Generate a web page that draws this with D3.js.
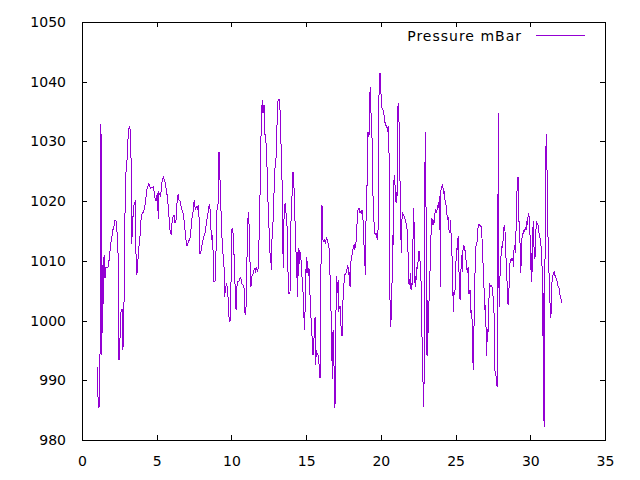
<!DOCTYPE html>
<html>
<head>
<meta charset="utf-8">
<script src="https://cdn.jsdelivr.net/npm/d3@7/dist/d3.min.js"></script>
<style>
html,body{margin:0;padding:0;background:#fff;}
svg{display:block;}
text{font-family:"DejaVu Sans",sans-serif;font-size:14px;fill:#000;}
</style>
</head>
<body>
<svg id="chart" width="640" height="480"></svg>
<script>
const seriesName = "Pressure mBar";
const xTicks = [0,5,10,15,20,25,30,35];
const yTicks = [980,990,1000,1010,1020,1030,1040,1050];
const days = [
1.02,1.04,1.09,1.16,1.20,1.23,1.25,1.27,1.32,1.36,1.38,1.45,1.50,1.54,1.61,1.67,1.74,1.81,1.87,1.94,2.01,2.07,2.14,2.21,2.28,2.34,2.41,2.43,2.48,2.54,2.59,2.63,2.68,2.74,2.79,2.83,2.90,2.97,3.03,3.10,3.17,3.23,3.28,3.30,3.37,3.43,3.50,3.57,3.59,3.64,3.70,3.77,3.84,3.90,3.97,4.04,4.13,4.20,4.26,4.33,4.40,4.46,4.53,4.60,
4.77,4.89,4.95,5.04,5.11,5.15,5.24,5.31,5.35,5.44,5.56,5.62,5.69,5.76,5.82,5.89,5.96,6.02,6.09,6.16,6.22,6.29,6.36,6.43,6.49,6.56,6.63,6.69,6.76,6.83,6.89,6.96,7.03,7.09,7.16,7.23,7.30,7.36,7.43,7.47,7.52,7.59,7.65,7.72,7.79,7.83,7.88,7.94,8.01,8.08,8.14,8.21,8.28,8.34,8.41,8.48,8.54,8.59,8.66,
8.72,8.77,8.81,8.83,8.90,8.97,8.99,9.04,9.10,9.12,9.17,9.21,9.26,9.30,9.37,9.41,9.46,9.50,9.55,9.59,9.66,9.71,9.77,9.82,9.88,9.95,9.99,10.04,10.11,10.15,10.20,10.26,10.31,10.33,10.40,10.49,10.55,10.62,10.69,10.78,10.84,10.89,10.95,11.00,11.07,11.13,11.18,11.24,11.31,11.36,11.40,11.45,11.51,11.58,11.62,11.67,11.74,11.80,11.87,11.94,12.00,12.07,12.11,12.18,12.23,12.29,12.36,12.43,12.47,12.54,12.61,12.65,12.69,
12.72,12.78,12.85,12.92,12.98,13.05,13.12,13.19,13.25,13.32,13.39,13.43,13.48,13.52,13.59,13.63,13.70,13.74,13.79,13.85,13.92,13.97,14.01,14.08,14.12,14.17,14.21,14.28,14.32,14.37,14.41,14.46,14.50,14.55,14.61,14.66,14.70,14.77,14.84,14.88,14.93,14.97,15.02,15.06,15.10,15.15,15.19,15.24,15.31,15.37,15.42,15.46,15.51,15.55,15.60,15.64,15.68,15.73,15.80,15.86,15.93,15.97,16.02,16.06,16.11,16.15,16.22,16.29,16.35,16.42,16.49,16.56,16.60,16.64,16.69,
16.76,16.80,16.85,16.89,16.93,16.96,17.00,17.05,17.09,17.14,17.18,17.22,17.27,17.31,17.36,17.40,17.45,17.49,17.54,17.58,17.65,17.72,17.76,17.80,17.85,17.89,17.94,17.98,18.03,18.07,18.12,18.16,18.21,18.25,18.30,18.34,18.38,18.43,18.50,18.56,18.61,18.65,18.70,18.74,18.79,18.83,18.88,18.92,18.96,19.01,19.05,19.10,19.14,19.19,19.23,19.28,19.32,19.37,19.41,19.46,19.50,19.55,19.59,19.63,19.68,19.72,19.77,19.81,19.86,19.90,19.95,19.99,20.04,20.08,20.13,20.17,20.21,20.26,20.30,20.35,20.39,20.44,20.48,20.53,20.57,20.62,20.64,20.68,20.73,
20.77,20.79,20.84,20.88,20.93,20.97,21.02,21.06,21.11,21.15,21.20,21.24,21.29,21.33,21.37,21.42,21.46,21.53,21.60,21.66,21.73,21.80,21.84,21.89,21.93,21.98,22.02,22.07,22.11,22.16,22.20,22.24,22.29,22.33,22.38,22.42,22.47,22.51,22.56,22.60,22.65,22.69,22.71,22.76,22.80,22.85,22.89,22.94,22.96,23.00,23.05,23.09,23.14,23.18,23.23,23.27,23.32,23.36,23.40,23.45,23.49,23.54,23.58,23.63,23.67,23.72,23.76,23.81,23.85,23.90,23.94,23.99,24.01,24.05,24.10,24.14,24.19,24.23,24.28,24.32,24.36,24.41,24.45,24.50,24.54,24.59,24.63,24.68,24.72,
24.77,24.81,24.86,24.90,24.94,24.99,25.03,25.08,25.12,25.17,25.21,25.26,25.30,25.35,25.39,25.44,25.48,25.53,25.57,25.61,25.66,25.70,25.75,25.79,25.84,25.88,25.93,25.97,26.02,26.06,26.11,26.15,26.17,26.22,26.26,26.31,26.35,26.40,26.44,26.48,26.53,26.57,26.62,26.66,26.71,26.75,26.80,26.84,26.89,26.93,26.97,27.02,27.06,27.11,27.15,27.20,27.24,27.29,27.33,27.38,27.42,27.47,27.51,27.56,27.60,27.64,27.69,27.73,27.78,27.82,27.85,27.89,27.91,27.96,28.00,28.05,28.09,28.14,28.18,28.22,28.27,28.31,28.36,28.40,28.45,28.49,28.54,28.58,28.63,28.67,28.72,28.76,
28.83,28.87,28.92,28.96,29.00,29.05,29.09,29.14,29.18,29.23,29.27,29.32,29.36,29.41,29.45,29.50,29.54,29.59,29.63,29.67,29.72,29.76,29.81,29.85,29.90,29.94,29.99,30.03,30.05,30.10,30.14,30.19,30.23,30.28,30.32,30.37,30.41,30.46,30.50,30.55,30.59,30.63,30.68,30.72,30.77,30.81,30.86,30.88,30.92,30.97,31.01,31.06,31.10,31.15,31.19,31.24,31.28,31.33,31.37,31.42,31.46,31.50,31.55,31.59,31.64,31.68,31.73,31.77,31.82,31.86,31.91,31.95,32.00,32.04,32.09
];
const pressure = [
992.3,990.6,985.3,986.1,985.5,1028.6,1009.3,1032.9,994.2,1009.3,997.9,1010.4,1011.0,1007.1,1009.0,1008.8,1009.0,1010.1,1011.5,1013.2,1014.2,1015.2,1015.8,1016.8,1016.7,1015.1,1011.3,993.7,993.4,996.7,1001.2,1001.7,1002.0,995.1,999.8,1006.2,1023.0,1025.8,1027.4,1031.6,1032.5,1032.0,1027.2,1012.9,1014.6,1018.5,1019.7,1020.0,1014.6,1007.6,1008.2,1011.3,1013.2,1014.6,1017.7,1018.0,1018.2,1019.1,1020.0,1021.9,1022.2,1023.1,1022.5,1022.2,
1022.4,1020.5,1020.0,1021.4,1017.0,1021.4,1021.0,1021.8,1023.1,1024.1,1023.1,1022.2,1021.1,1019.4,1017.4,1015.2,1014.4,1016.3,1017.4,1017.7,1016.3,1016.8,1019.7,1021.1,1020.2,1020.0,1019.1,1018.5,1018.0,1016.8,1015.2,1013.5,1012.5,1012.9,1013.4,1013.8,1015.5,1017.1,1018.2,1019.7,1020.0,1018.5,1019.1,1018.8,1019.4,1017.4,1011.3,1011.3,1012.4,1013.2,1014.1,1014.2,1015.5,1016.7,1017.4,1019.1,1019.4,1018.0,1013.5,
1014.4,1011.6,1009.6,1006.5,1006.5,1011.8,1018.2,1018.5,1018.8,1023.3,1028.3,1024.7,1022.5,1018.5,1013.8,1011.3,1011.0,1009.3,1004.0,1005.1,1006.2,1005.7,1004.0,1000.9,999.8,1000.4,1011.3,1015.5,1014.6,1012.9,1009.0,1004.6,1001.8,1004.8,1006.5,1006.5,1007.1,1007.2,1006.2,1005.9,1005.7,1001.5,1000.9,1003.4,1015.2,1018.2,1016.0,1010.1,1005.7,1007.4,1007.6,1007.9,1008.5,1008.8,1007.9,1009.0,1008.2,1008.8,1015.8,1024.1,1034.4,1036.9,1034.7,1036.1,1031.3,1030.8,1027.7,1021.4,1018.0,1014.1,1009.6,1010.1,1008.5,
1014.4,1016.3,1021.4,1025.8,1026.9,1032.8,1036.9,1037.0,1035.3,1029.4,1023.1,1012.9,1008.8,1017.1,1019.7,1018.2,1017.7,1013.8,1007.9,1004.6,1004.6,1015.5,1018.0,1022.5,1024.8,1024.1,1020.0,1014.9,1011.6,1009.9,1004.0,1012.1,1007.4,1011.8,1011.3,1010.1,1007.9,1005.9,1001.8,998.5,1001.8,1007.1,1010.7,1007.9,1009.9,1007.4,1008.8,1005.4,1001.2,998.1,996.7,994.2,995.6,999.0,1000.6,992.5,995.1,994.5,994.2,992.8,990.3,1002.6,1016.0,1019.4,1013.8,1013.2,1013.5,1012.9,1013.8,1013.5,1012.7,1011.8,1007.4,1005.4,997.6,
990.2,998.5,995.6,987.0,985.3,993.4,1002.0,1007.4,1004.6,1006.8,1001.5,1002.3,1002.3,999.5,998.5,997.4,1002.9,1004.3,1006.5,1007.6,1007.9,1008.2,1009.3,1009.0,1007.6,1008.2,1005.7,1009.6,1010.4,1011.0,1011.8,1012.4,1012.7,1012.1,1012.4,1013.2,1014.1,1018.2,1018.8,1018.8,1018.0,1018.2,1018.0,1018.5,1018.2,1014.6,1012.4,1010.7,1007.6,1017.4,1019.7,1025.8,1031.6,1030.8,1031.6,1039.1,1036.9,1031.9,1030.5,1023.1,1017.4,1016.3,1014.6,1014.4,1014.6,1014.1,1013.5,1015.2,1035.3,1041.1,1041.4,1038.6,1036.9,1035.5,1035.3,1035.2,1034.4,1033.3,1033.0,1032.5,1032.8,1031.6,1032.5,1031.3,1023.3,1000.1,999.0,1000.9,1000.1,
1014.4,1009.6,1016.3,1023.6,1024.4,1020.5,1019.7,1021.6,1020.8,1036.4,1034.4,1031.3,1021.9,1015.5,1011.3,1017.4,1018.0,1017.7,1017.1,1016.6,1015.8,1014.1,1007.9,1005.9,1006.2,1007.9,1005.1,1006.2,1005.9,1015.2,1018.8,1013.8,1005.7,1007.4,1006.8,1009.0,1008.8,1011.3,1011.6,1011.3,1007.9,1006.5,1001.2,996.7,992.8,985.6,989.6,1007.9,1031.6,1026.9,1008.8,994.0,1003.4,997.9,1004.0,1005.7,1012.4,1014.6,1017.1,1016.8,1016.0,1016.8,1016.3,1018.2,1018.5,1018.0,1018.5,1019.1,1018.8,1020.0,1020.8,1005.7,1021.4,1022.5,1022.5,1022.8,1021.4,1021.6,1020.5,1019.7,1019.4,1018.5,1016.8,1017.4,1015.5,1014.9,1014.6,1016.8,1011.0,
1010.7,1005.7,1001.5,1005.1,1004.3,1006.2,1010.1,1012.1,1011.8,1014.1,1009.0,1006.8,1003.4,1007.4,1011.0,1008.2,1011.3,1012.7,1012.4,1011.8,1011.6,1010.1,1008.8,1007.9,1009.0,1004.6,1004.6,1005.1,1001.2,1001.8,999.8,1000.1,991.7,996.7,1003.4,1009.0,1012.4,1012.7,1013.2,1015.2,1016.0,1016.2,1016.0,1015.8,1015.8,1014.6,1012.4,1009.3,1006.8,1002.6,1001.8,1002.6,994.0,996.7,998.5,998.1,1004.0,1006.2,1005.7,1005.9,1005.7,1005.4,1004.0,1002.9,997.9,991.4,991.1,990.0,988.9,989.7,1034.7,1022.2,1002.3,1006.8,1008.5,1011.3,1012.4,1012.1,1013.5,1015.5,1015.8,1014.9,1011.3,1009.0,1006.2,1002.9,1002.6,1005.7,1009.3,1010.1,1010.4,1010.1,
1010.4,1009.0,1012.4,1012.7,1011.3,1015.5,1020.5,1023.3,1024.1,1016.8,1016.3,1012.4,1007.9,1011.0,1014.1,1014.6,1014.6,1015.2,1014.9,1015.5,1015.2,1016.6,1016.0,1017.4,1018.0,1016.8,1013.8,1008.5,1011.3,1006.5,1010.7,1016.6,1013.5,1010.4,1010.7,1014.6,1016.6,1016.3,1016.3,1015.5,1014.6,1014.1,1013.5,1012.4,1009.3,1008.8,995.3,1004.6,982.2,1004.6,1018.5,1031.3,1029.1,1019.1,1013.5,1009.6,1004.6,1002.6,1000.4,1002.3,1007.1,1007.4,1007.9,1008.2,1007.6,1007.4,1007.1,1006.8,1006.2,1005.7,1005.7,1005.1,1004.0,1004.0,1002.9
];

const W = 640, H = 480;
const plot = {left: 82, right: 605, top: 22, bottom: 440};
const svg = d3.select("#chart");
svg.append("rect").attr("width", W).attr("height", H).attr("fill", "#fff");

const x = d3.scaleLinear().domain([0, 35]).range([plot.left, plot.right]);
const y = d3.scaleLinear().domain([980, 1050]).range([plot.bottom, plot.top]);

const data = days.map((d, i) => [d, pressure[i]]);

const tickLen = 5;
function styleAxis(g) {
  g.selectAll(".domain").remove();
  g.selectAll(".tick line").attr("stroke", "#000").attr("shape-rendering", "crispEdges");
  g.selectAll("text").style("font-family", "'DejaVu Sans', sans-serif").style("font-size", "14px").attr("fill", "#000");
}

svg.append("g").attr("transform", `translate(0,${plot.bottom})`)
  .call(d3.axisBottom(x).tickValues(xTicks).tickSize(-tickLen).tickPadding(16).tickFormat(d3.format("d")))
  .call(styleAxis);
svg.append("g").attr("transform", `translate(0,${plot.top})`)
  .call(d3.axisTop(x).tickValues(xTicks.slice(1, -1)).tickSize(-tickLen).tickFormat(""))
  .call(styleAxis);
svg.append("g").attr("transform", `translate(${plot.left},0)`)
  .call(d3.axisLeft(y).tickValues(yTicks).tickSize(-tickLen).tickPadding(16).tickFormat(d3.format("d")))
  .call(styleAxis);
svg.append("g").attr("transform", `translate(${plot.right},0)`)
  .call(d3.axisRight(y).tickValues(yTicks.slice(1, -1)).tickSize(-tickLen).tickFormat(""))
  .call(styleAxis);

const line = d3.line().x(d => x(d[0])).y(d => y(d[1]));
svg.append("path").datum(data)
  .attr("d", line)
  .attr("fill", "none")
  .attr("stroke", "#9400d3")
  .attr("stroke-width", 1)
  .attr("shape-rendering", "crispEdges");

svg.append("rect")
  .attr("x", plot.left + 0.5).attr("y", plot.top + 0.5)
  .attr("width", plot.right - plot.left).attr("height", plot.bottom - plot.top)
  .attr("fill", "none").attr("stroke", "#000").attr("stroke-width", 1)
  .attr("shape-rendering", "crispEdges");

const legend = svg.append("g");
legend.append("text")
  .attr("x", 522).attr("y", 41)
  .attr("text-anchor", "end")
  .style("letter-spacing", "1px")
  .text(seriesName);
legend.append("line")
  .attr("x1", 536).attr("x2", 585).attr("y1", 35.5).attr("y2", 35.5)
  .attr("stroke", "#9400d3").attr("stroke-width", 1)
  .attr("shape-rendering", "crispEdges");
</script>
</body>
</html>
